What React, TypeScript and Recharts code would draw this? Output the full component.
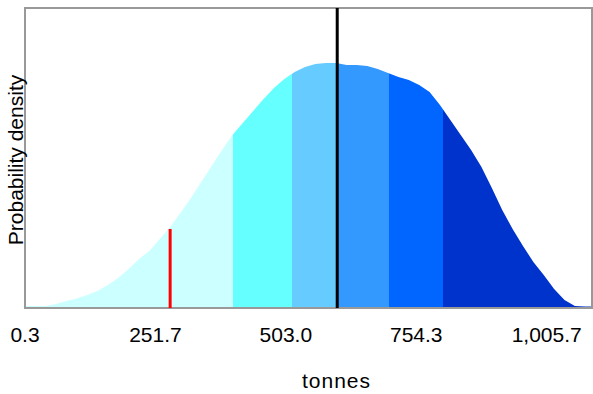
import { Area, ComposedChart, Label, ReferenceArea, ReferenceLine, XAxis, YAxis } from "recharts";

// tonnes (bin centres) and probability density, in 1e-6 per tonne
const tonnes = [
  0.3, 20, 40, 60, 80, 100, 120, 140, 160, 180, 200, 220, 240, 260, 280, 300, 320, 340, 360, 380,
  400, 420, 440, 460, 480, 500, 520, 540, 560, 580, 600, 620, 640, 660, 680, 700, 720, 740, 760, 780,
  800, 820, 840, 860, 880, 900, 920, 940, 960, 980, 1000, 1020, 1040, 1060, 1080, 1093,
];
const density = [
  10, 10, 10, 20, 35, 48, 65, 85, 115, 150, 195, 245, 285, 345, 405, 475, 550, 630, 710, 790,
  865, 925, 985, 1045, 1100, 1145, 1180, 1205, 1220, 1225, 1225, 1215, 1215, 1210, 1195, 1175, 1155, 1140, 1115, 1080,
  1015, 940, 865, 790, 705, 600, 490, 395, 310, 230, 165, 95, 40, 10, 8, 8,
];

const xTicks = [0.3, 251.7, 503.0, 754.3, 1005.7];
const xMin = 0.3;
const xMax = 1093;
const yMax = 0.0015;

// percentile band edges (tonnes) and their fills
const bandEdges = [402, 514, 602, 702, 806];
const bandColors = ["#CCFFFF", "#66FFFF", "#66CCFF", "#3399FF", "#0066FF", "#0033CC"];

const meanTonnes = 602;
const markerTonnes = 280;
const markerDensity = 395;

const data = tonnes.map((t, i) => ({ t, d: density[i] / 1e6 }));

const font = "'Liberation Sans', Arial, sans-serif";

const fmt = (v: number) =>
  v.toLocaleString("en-US", { minimumFractionDigits: 1, maximumFractionDigits: 1 });

function XTitle(props: any) {
  const { viewBox } = props;
  return (
    <text
      x={viewBox.x + viewBox.width / 2 + 28}
      y={viewBox.y + viewBox.height - 6}
      textAnchor="middle"
      fontFamily={font}
      fontSize={21}
      letterSpacing={1}
      fill="#000"
    >
      tonnes
    </text>
  );
}

function YTitle(props: any) {
  const { viewBox } = props;
  const x = viewBox.x + 23;
  const y = viewBox.y + viewBox.height / 2 + 2;
  return (
    <text
      x={x}
      y={y}
      transform={`rotate(-90, ${x}, ${y})`}
      textAnchor="middle"
      fontFamily={font}
      fontSize={21}
      fill="#000"
    >
      Probability density
    </text>
  );
}

export default function App() {
  const stops: JSX.Element[] = [];
  bandColors.forEach((c, i) => {
    const from = i === 0 ? 0 : (bandEdges[i - 1] - xMin) / (xMax - xMin);
    const to = i === bandColors.length - 1 ? 1 : (bandEdges[i] - xMin) / (xMax - xMin);
    stops.push(<stop key={`a${i}`} offset={from} stopColor={c} />);
    stops.push(<stop key={`b${i}`} offset={to} stopColor={c} />);
  });

  return (
    <div style={{ position: "absolute", left: 0, top: 0 }}>
      <ComposedChart width={593} height={394} data={data} margin={{ top: 8, right: 1, bottom: 0, left: 0 }}>
        <defs>
          <linearGradient id="bands" x1="0" y1="0" x2="1" y2="0">
            {stops}
          </linearGradient>
        </defs>
        <XAxis
          dataKey="t"
          type="number"
          domain={[xMin, xMax]}
          ticks={xTicks}
          interval={0}
          allowDataOverflow
          tickFormatter={fmt}
          tickLine={false}
          axisLine={false}
          tickMargin={13}
          height={86}
          tick={{ fontSize: 21, fontFamily: font, fill: "#000" }}
        >
          <Label content={<XTitle />} />
        </XAxis>
        <YAxis type="number" domain={[0, yMax]} width={25} tick={false} tickLine={false} axisLine={false}>
          <Label content={<YTitle />} />
        </YAxis>
        <Area
          dataKey="d"
          type="linear"
          stroke="none"
          fill="url(#bands)"
          fillOpacity={1}
          isAnimationActive={false}
        />
        <ReferenceLine
          segment={[
            { x: markerTonnes, y: 0 },
            { x: markerTonnes, y: markerDensity / 1e6 },
          ]}
          stroke="#FF0000"
          strokeWidth={3}
        />
        <ReferenceLine x={meanTonnes} stroke="#000" strokeWidth={3} />
        <ReferenceArea x1={xMin} x2={xMax} y1={0} y2={yMax} fill="none" stroke="#999" strokeWidth={2} />
      </ComposedChart>
    </div>
  );
}
